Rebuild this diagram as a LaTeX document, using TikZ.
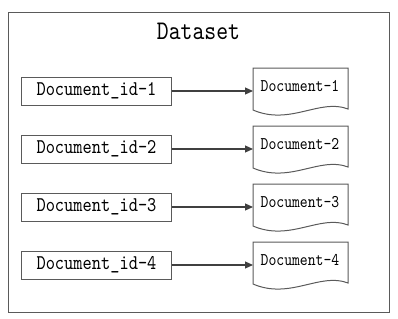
\documentclass[tikz,border=0pt]{standalone}
\usepackage{fontspec}
\newfontfamily\simmono{lmmono10-regular.otf}[FakeStretch=0.84]
\usetikzlibrary{arrows.meta}
\definecolor{edge}{HTML}{5A5A5A}
\definecolor{arrowc}{HTML}{404040}
\tikzset{
  outerbox/.style={draw=edge, line width=1bp},
  titletext/.style={font=\simmono\fontsize{27}{30}\selectfont, inner sep=0pt},
  idbox/.style={draw=edge, line width=1bp, minimum width=149bp, minimum height=28bp, inner sep=0pt,
    font=\simmono\fontsize{21}{24}\selectfont},
  docframe/.style={minimum width=95bp, minimum height=41bp, inner sep=0pt, anchor=north west},
  docline/.style={draw=edge, line width=1bp, fill=white},
  doctext/.style={font=\simmono\fontsize{17.9}{20}\selectfont, inner sep=0pt},
  arr/.style={draw=arrowc, line width=1.2bp, -{Triangle[length=8bp,width=7bp]}}
}
\begin{document}
\begin{tikzpicture}[x=1bp,y=-1bp]
\useasboundingbox (0,0) rectangle (398,319);
\draw[outerbox] (8,12) rectangle (389,312);
\node[titletext] (title) at (198.5,31) {Dataset};
\foreach \i in {1,...,4} {
  \pgfmathsetmacro\yy{91+58*(\i-1)}
  \pgfmathsetmacro\tt{\yy-23}
  \node[idbox] (id\i) at (96.5,\yy) {Document\_id-\i};
  \node[docframe] (doc\i) at (253,\tt) {};
  \draw[docline] (253,\tt) -- (348,\tt) -- (348,\tt+41)
     .. controls (320,\tt+30) and (290,\tt+58) .. (253,\tt+42) -- cycle;
  \node[doctext] (dt\i) at (300,\tt+18) {Document-\i};
  \draw[arr] (id\i.east) -- (id\i.east -| doc\i.west);
}
\end{tikzpicture}
\end{document}
